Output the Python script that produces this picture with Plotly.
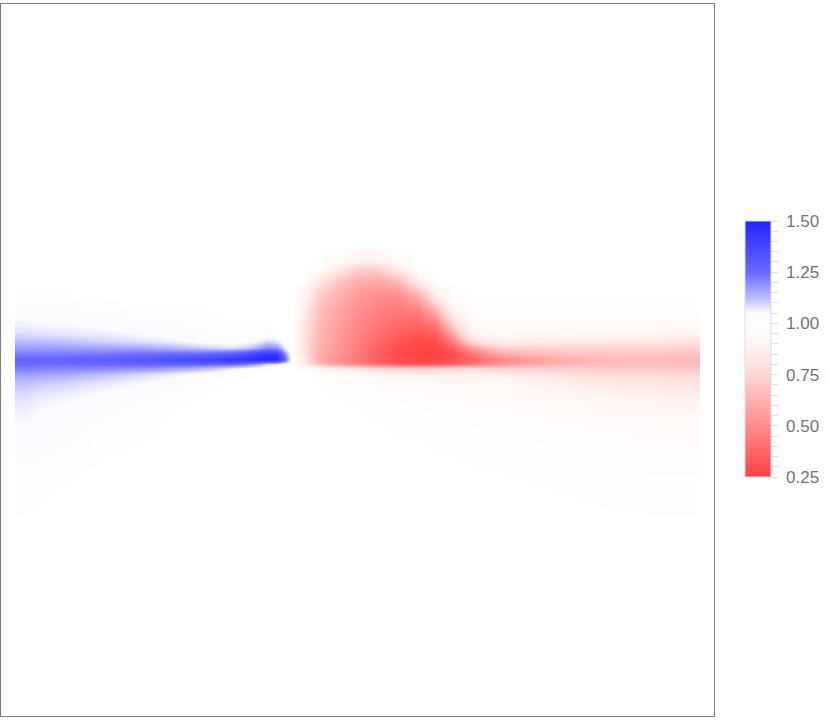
import numpy as np
import plotly.graph_objects as go

# grid centres, 0-100 across the filled square
x_vals = [0, 6.6, 13.1, 19.7, 26.3, 32.1, 35, 36.9, 38.4, 39.4, 40.3, 42, 44, 47, 50, 53, 56, 59, 61.6, 63.8, 66.4, 70.8, 76.6, 85.4, 92.7, 100]
y_vals = [100, 73.4, 65.3, 63.4, 61.7, 59.5, 57.3, 55.1, 53.6, 52.6, 51.8, 50.9, 50, 49.4, 48.8, 48.2, 47.4, 45.6, 42.7, 38.3, 33.2, 29.6, 0]

ratio = [
    [1, 1, 1, 1, 1, 1, 1, 1, 1, 1, 1, 1, 1, 1, 1, 1, 1, 1, 1, 1, 1, 1, 1, 1, 1, 1],
    [1, 1, 1, 1, 1, 1, 1, 1, 1, 1, 1, 1, 1, 1, 1, 1, 1, 1, 1, 1, 1, 1, 1, 1, 1, 1],
    [1, 1, 1, 1, 1, 1, 1, 1, 1, 1, 1, 1, 1, 1, 1, 1, 1, 1, 1, 1, 1, 1, 1, 1, 1, 1],
    [1, 1, 1, 1, 1, 1, 1, 1, 1, 1, 1, 1, .98, .88, .74, .74, .88, .99, 1, 1, 1, 1, 1, 1, 1, 1],
    [1, 1, 1, 1, 1, 1, 1, 1, 1, 1, 1, 1, .84, .7, .62, .6, .65, .87, .99, 1, 1, 1, 1, 1, 1, 1],
    [1.01, 1.01, 1, 1, 1, 1, 1, 1, 1, 1, 1, .93, .72, .63, .55, .51, .51, .62, .87, .98, .995, .995, .995, .995, .995, .995],
    [1.03, 1.03, 1.02, 1.01, 1.01, 1, 1, 1, 1, 1, 1, .86, .68, .59, .51, .47, .44, .46, .64, .9, .98, .985, .985, .985, .985, .985],
    [1.06, 1.05, 1.04, 1.03, 1.02, 1.01, 1.01, 1.01, 1, 1, 1, .83, .66, .57, .49, .43, .39, .37, .43, .72, .94, .965, .965, .96, .955, .95],
    [1.09, 1.08, 1.07, 1.05, 1.03, 1.02, 1.02, 1.03, 1.02, 1, 1, .82, .65, .56, .47, .4, .35, .31, .34, .56, .88, .93, .92, .91, .9, .88],
    [1.13, 1.12, 1.1, 1.08, 1.05, 1.03, 1.05, 1.1, 1.08, 1.02, 1, .82, .64, .55, .46, .38, .32, .28, .3, .43, .76, .87, .85, .83, .82, .8],
    [1.17, 1.17, 1.16, 1.15, 1.11, 1.08, 1.13, 1.2, 1.18, 1.06, 1, .82, .63, .54, .45, .36, .3, .27, .27, .34, .56, .73, .74, .74, .74, .73],
    [1.22, 1.22, 1.23, 1.25, 1.26, 1.3, 1.38, 1.44, 1.42, 1.2, 1, .82, .62, .53, .44, .35, .29, .26, .26, .29, .42, .6, .66, .69, .69, .68],
    [1.26, 1.27, 1.29, 1.32, 1.37, 1.44, 1.47, 1.5, 1.48, 1.28, 1, .84, .61, .52, .43, .34, .29, .26, .26, .3, .37, .48, .58, .65, .66, .65],
    [1.25, 1.25, 1.26, 1.27, 1.28, 1.27, 1.2, 1.1, 1.08, 1.03, 1, .87, .66, .56, .47, .39, .34, .31, .32, .36, .43, .53, .6, .66, .67, .66],
    [1.22, 1.21, 1.2, 1.18, 1.14, 1.07, 1.03, 1.01, 1, 1, 1, .97, .9, .85, .8, .75, .72, .71, .72, .74, .76, .72, .72, .7, .7, .69],
    [1.18, 1.17, 1.14, 1.1, 1.06, 1.02, 1.01, 1, 1, 1, 1, 1, .97, .94, .91, .88, .86, .85, .85, .85, .85, .83, .8, .76, .75, .74],
    [1.14, 1.12, 1.09, 1.06, 1.03, 1.01, 1, 1, 1, 1, 1, 1, .99, .97, .96, .94, .93, .92, .91, .91, .91, .9, .86, .81, .8, .78],
    [1.09, 1.07, 1.05, 1.03, 1.01, 1, 1, 1, 1, 1, 1, 1, 1, .99, .985, .98, .97, .965, .96, .96, .955, .95, .93, .88, .86, .85],
    [1.06, 1.04, 1.03, 1.01, 1, 1, 1, 1, 1, 1, 1, 1, 1, 1, .995, .99, .99, .985, .98, .975, .97, .97, .96, .95, .94, .93],
    [1.04, 1.03, 1.01, 1.005, 1, 1, 1, 1, 1, 1, 1, 1, 1, 1, 1, 1, .995, .995, .99, .99, .99, .985, .98, .975, .97, .965],
    [1.02, 1.01, 1, 1, 1, 1, 1, 1, 1, 1, 1, 1, 1, 1, 1, 1, 1, 1, 1, 1, .995, .995, .99, .985, .98, .98],
    [1, 1, 1, 1, 1, 1, 1, 1, 1, 1, 1, 1, 1, 1, 1, 1, 1, 1, 1, 1, 1, 1, 1, 1, 1, 1],
    [1, 1, 1, 1, 1, 1, 1, 1, 1, 1, 1, 1, 1, 1, 1, 1, 1, 1, 1, 1, 1, 1, 1, 1, 1, 1],
]

# colour ramp
stop_values = [0.25, 0.5, 0.75, 0.9, 1.0, 1.05, 1.12, 1.25, 1.5]
stop_colors = ['rgb(255,64,64)', 'rgb(255,140,140)', 'rgb(255,215,215)', 'rgb(255,245,242)', 'rgb(255,255,255)',
               'rgb(250,250,255)', 'rgb(190,190,255)', 'rgb(105,105,255)', 'rgb(35,35,255)']
major_ticks = [0.25, 0.5, 0.75, 1.0, 1.25, 1.5]

z_min, z_max = stop_values[0], stop_values[-1]
colorscale = [[(v - z_min) / (z_max - z_min), c] for v, c in zip(stop_values, stop_colors)]


def edges(centres):
    # brick edges, so the image stops exactly at the first and last grid line
    c = np.array(centres, dtype=float)
    return np.concatenate([c[:1], (c[1:] + c[:-1]) / 2, c[-1:]])


tick_vals = [round(z_min + 0.05 * i, 2) for i in range(26)]
tick_text = [f'\u00a0{v:.2f}' if v in major_ticks else '' for v in tick_vals]

fig = go.Figure(go.Heatmap(
    x=edges(x_vals),
    y=edges(y_vals[::-1]),
    z=ratio[::-1],
    zmin=z_min,
    zmax=z_max,
    zsmooth='best',
    colorscale=colorscale,
    colorbar=dict(
        lenmode='pixels', len=256, thicknessmode='pixels', thickness=26,
        x=1.0435, xanchor='left', xpad=0, y=0.5154, yanchor='middle', ypad=0,
        tickmode='array', tickvals=tick_vals, ticktext=tick_text,
        ticks='outside', ticklen=7, tickwidth=1, tickcolor='#e0e0e0',
        outlinewidth=1, outlinecolor='#dddddd',
        tickfont=dict(family='Liberation Sans', size=17, color='#757575'),
    ),
))

fig.update_xaxes(range=[-2.04, 102.05], showticklabels=False, ticks='', showgrid=False, zeroline=False,
                 showline=True, mirror=True, linecolor='#808080', linewidth=1)
fig.update_yaxes(range=[-2, 102], showticklabels=False, ticks='', showgrid=False, zeroline=False,
                 showline=True, mirror=True, linecolor='#808080', linewidth=1)
fig.update_layout(width=830, height=720, margin=dict(l=1, r=116, t=4, b=4),
                  plot_bgcolor='white', paper_bgcolor='white')

# no page margin, the frame sits against the window edge
fig.write_html("out.html", config={'displayModeBar': False}, post_script="document.body.style.margin = '0';")
